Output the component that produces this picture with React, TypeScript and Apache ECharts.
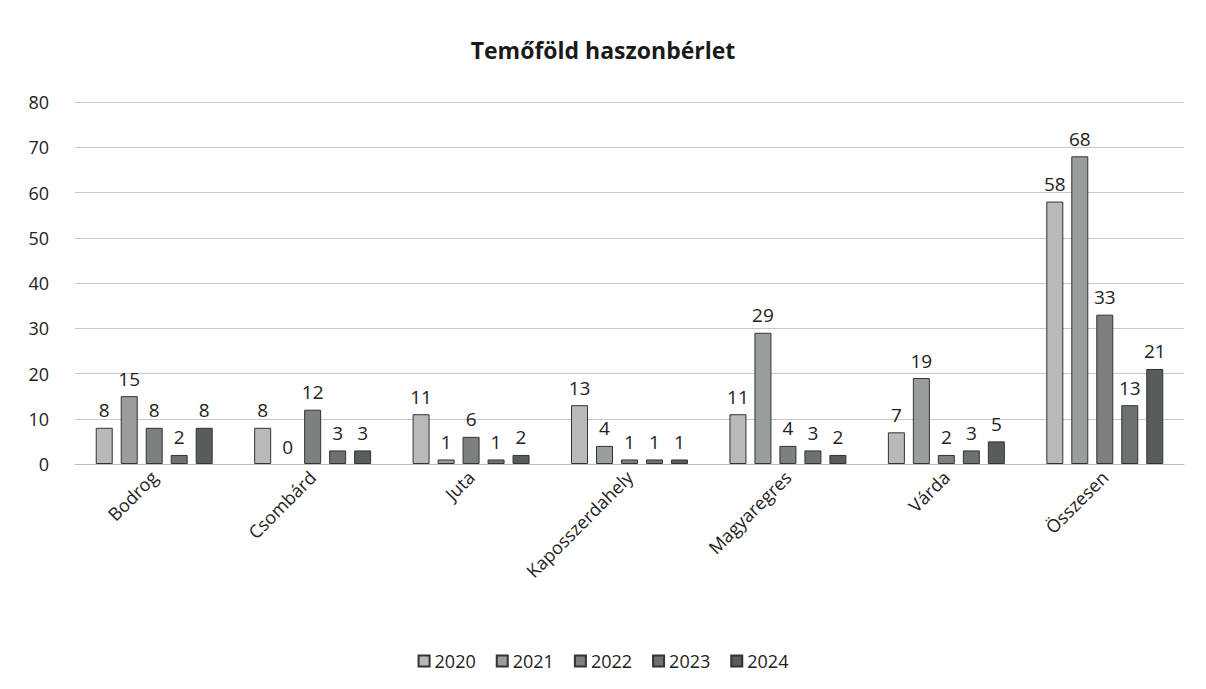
import React, { useEffect, useRef } from "react";
import * as echarts from "echarts";

const categories = ["Bodrog", "Csombárd", "Juta", "Kaposszerdahely", "Magyaregres", "Várda", "Összesen"];
const years = ["2020", "2021", "2022", "2023", "2024"];
const v2020 = [8, 8, 11, 13, 11, 7, 58];
const v2021 = [15, 0, 1, 4, 29, 19, 68];
const v2022 = [8, 12, 6, 1, 4, 2, 33];
const v2023 = [2, 3, 1, 1, 3, 3, 13];
const v2024 = [8, 3, 2, 1, 2, 5, 21];
const seriesValues = [v2020, v2021, v2022, v2023, v2024];
const colors = ["#b7bab7", "#999e9a", "#7c817d", "#6c726d", "#575d58"];

export default function App() {
  const ref = useRef<HTMLDivElement>(null);
  useEffect(() => {
    if (!ref.current) return;
    const chart = echarts.init(ref.current, undefined, { renderer: "svg" });
    const font = "'Open Sans', 'Noto Sans', sans-serif";
    chart.setOption({
      animation: false,
      backgroundColor: "#ffffff",
      textStyle: { fontFamily: font },
      title: {
        text: "Temőföld haszonbérlet",
        left: "center",
        top: 33,
        textStyle: { fontSize: 23, fontWeight: "bold", color: "#1a1a1a", fontFamily: font },
      },
      legend: {
        data: years,
        bottom: 14,
        left: "center",
        itemWidth: 11,
        itemHeight: 11,
        itemGap: 20,
        icon: "rect",
        textStyle: { fontSize: 18, color: "#222", fontFamily: font },
      },
      grid: { left: 75, right: 22, top: 102, bottom: 225, containLabel: false },
      xAxis: {
        type: "category",
        data: categories,
        axisLine: { lineStyle: { color: "#bbbbbb" } },
        axisTick: { show: false },
        axisLabel: { rotate: 45, fontSize: 18, color: "#222", margin: 10, fontFamily: font },
      },
      yAxis: {
        type: "value",
        min: 0,
        max: 80,
        interval: 10,
        axisLine: { show: false },
        axisTick: { show: false },
        splitLine: { lineStyle: { color: "#c8c8c8" } },
        axisLabel: { fontSize: 18, color: "#222", margin: 26, fontFamily: font },
      },
      series: years.map((y, i) => ({
        name: y,
        type: "bar",
        data: seriesValues[i].map((v) =>
          v === 0 ? { value: v, itemStyle: { borderWidth: 0 } } : v
        ),
        barWidth: 17,
        barGap: "47%",
        itemStyle: { color: colors[i], borderColor: "#333", borderWidth: 1 },
        label: { show: true, position: "top", fontSize: 19, color: "#222", distance: 8, fontFamily: font },
      })),
    });
    return () => chart.dispose();
  }, []);
  return (
    <div
      ref={ref}
      style={{ position: "fixed", left: 0, top: 0, width: 1206, height: 689 }}
    />
  );
}
